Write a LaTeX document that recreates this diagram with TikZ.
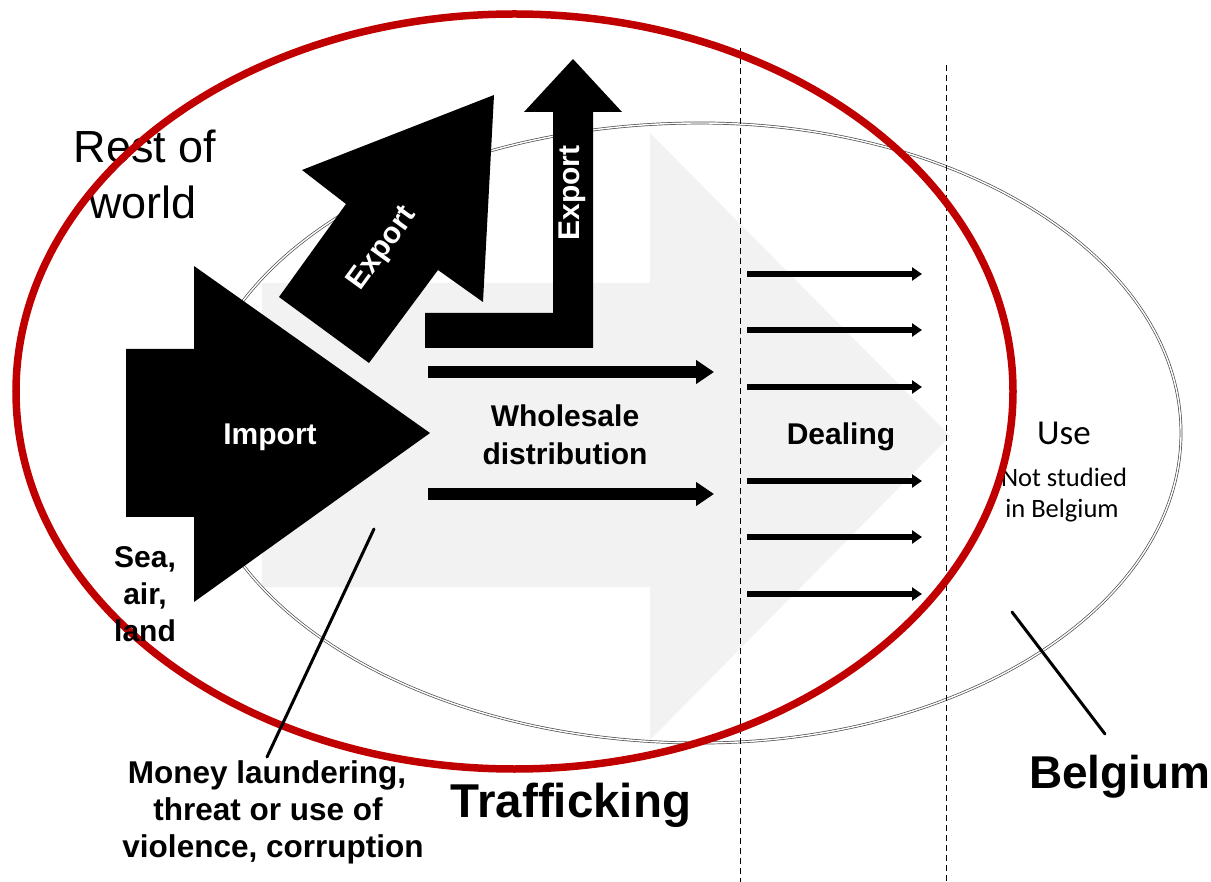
\documentclass[tikz,border=0pt]{standalone}
\usepackage{fontspec}
\setmainfont{Liberation Sans}
\newfontfamily\calibrifont{Carlito}
\usetikzlibrary{arrows.meta}
\definecolor{tred}{HTML}{C00000}
\definecolor{lgrey}{HTML}{F2F2F2}
\begin{document}
\begin{tikzpicture}[x=1pt,y=-1pt,
  blkshape/.style={fill=black,draw=none},
  fatarrow/.style={line width=12pt,-{Triangle[length=18pt,width=23pt]}},
  thinarrow/.style={line width=6pt,-{Triangle[length=10pt,width=13pt]}},
  divider/.style={line width=1pt,dash pattern=on 6pt off 4pt},
  eggline/.style={draw=black!70,double=white,double distance=1.4pt,line width=0.7pt},
  lbl/.style={inner sep=0pt,anchor=base,font=\bfseries\fontsize{30}{36}\selectfont},
  monlbl/.style={inner sep=0pt,anchor=base,font=\bfseries\fontsize{31.5}{37}\selectfont},
  biglbl/.style={inner sep=0pt,anchor=base,font=\bfseries\fontsize{47.5}{56}\selectfont},
  pointer/.style={line width=3pt,line cap=round},
  redring/.style={draw=tred,line width=7.5pt}
]
\useasboundingbox (0,0) rectangle (1211,882);
\fill[white] (0,0) rectangle (1211,882);

% large light grey arrow (trafficking flow)
\fill[lgrey] (262,283) -- (650,283) -- (650,133) -- (950,436) -- (650,740) -- (650,587) -- (262,587) -- cycle;

% Belgium outline (double thin line)
\draw[eggline] (700,123) arc[start angle=270,end angle=90,x radius=505,y radius=310]
  arc[start angle=90,end angle=-90,x radius=481,y radius=310] -- cycle;

% dashed dividers
\coordinate (d1t) at (740,48);  \coordinate (d1b) at (740,882);
\coordinate (d2t) at (946,65);  \coordinate (d2b) at (946,882);
\draw[divider] (d1t) -- (d1b);
\draw[divider] (d2t) -- (d2b);

% import arrow
\fill[blkshape] (126,349) -- (194,349) -- (194,266) -- (430,433) -- (194,602) -- (194,517) -- (126,517) -- cycle;
% diagonal export arrow
\fill[blkshape] (494,95) -- (483,302) -- (438,270) -- (369,363) -- (279,297) -- (346,204) -- (302,170) -- cycle;
% L-shaped export arrow
\fill[blkshape] (425,313) -- (553,313) -- (553,112) -- (524,112) -- (573,59) -- (622,112) -- (593,112) -- (593,348) -- (425,348) -- cycle;

% wholesale arrows
\coordinate (w1s) at (428,372); \coordinate (w1e) at (714,372);
\coordinate (w2s) at (428,494); \coordinate (w2e) at (714,494);
\draw[fatarrow] (w1s) -- (w1e);
\draw[fatarrow] (w2s) -- (w2e);

% dealing arrows
\foreach \i/\yy in {1/274,2/330,3/387,4/481,5/537,6/594}{
  \coordinate (ds\i) at (747,\yy); \coordinate (de\i) at (922,\yy);
  \draw[thinarrow] (ds\i) -- (de\i);
}

% texts
\node[inner sep=0pt,anchor=base,font=\fontsize{45}{56}\selectfont] (rest1) at (145,163) {Rest of};
\node[inner sep=0pt,anchor=base,font=\fontsize{45}{56}\selectfont] (rest2) at (143,219) {world};

\node[lbl,text=white] (imp) at (270,445) {Import};
\node[inner sep=0pt,font=\bfseries\fontsize{30}{36}\selectfont,text=white,rotate=54] (exp1) at (383,249) {Export};
\node[inner sep=0pt,font=\bfseries\fontsize{30}{36}\selectfont,text=white,rotate=90] (exp2) at (572,193) {Export};

\node[lbl] (ws1) at (565,427) {Wholesale};
\node[lbl] (ws2) at (565,465) {distribution};
\node[lbl] (deal) at (841,445) {Dealing};

\node[inner sep=0pt,anchor=base,font=\calibrifont\fontsize{35}{40}\selectfont] (use) at (1064,445) {Use};
\node[inner sep=0pt,anchor=base,font=\calibrifont\fontsize{26.5}{31}\selectfont] (ns1) at (1064,487) {Not studied};
\node[inner sep=0pt,anchor=base,font=\calibrifont\fontsize{26.5}{31}\selectfont] (ns2) at (1062,518) {in Belgium};

% red ring (rest of world)
\draw[redring] (514.5,391.5) ellipse [x radius=498.5,y radius=377.5];

\node[lbl] (sea1) at (145,567) {Sea,};
\node[lbl] (sea2) at (145,604) {air,};
\node[lbl] (sea3) at (145,641) {land};

\node[monlbl] (mon1) at (267,783) {Money laundering,};
\node[monlbl] (mon2) at (268,820) {threat or use of};
\node[monlbl] (mon3) at (273,857) {violence, corruption};

\node[biglbl] (traf) at (571,817) {Trafficking};
\node[biglbl,anchor=base west,font=\bfseries\fontsize{46}{56}\selectfont] (belg) at (1029,788) {Belgium};

% pointer lines
\coordinate (p1a) at (374,529); \coordinate (p1b) at (267,757);
\draw[pointer] (p1a) -- (p1b);
\coordinate (p2a) at (1012,612); \coordinate (p2b) at (1105,734);
\draw[pointer] (p2a) -- (p2b);
\end{tikzpicture}
\end{document}
